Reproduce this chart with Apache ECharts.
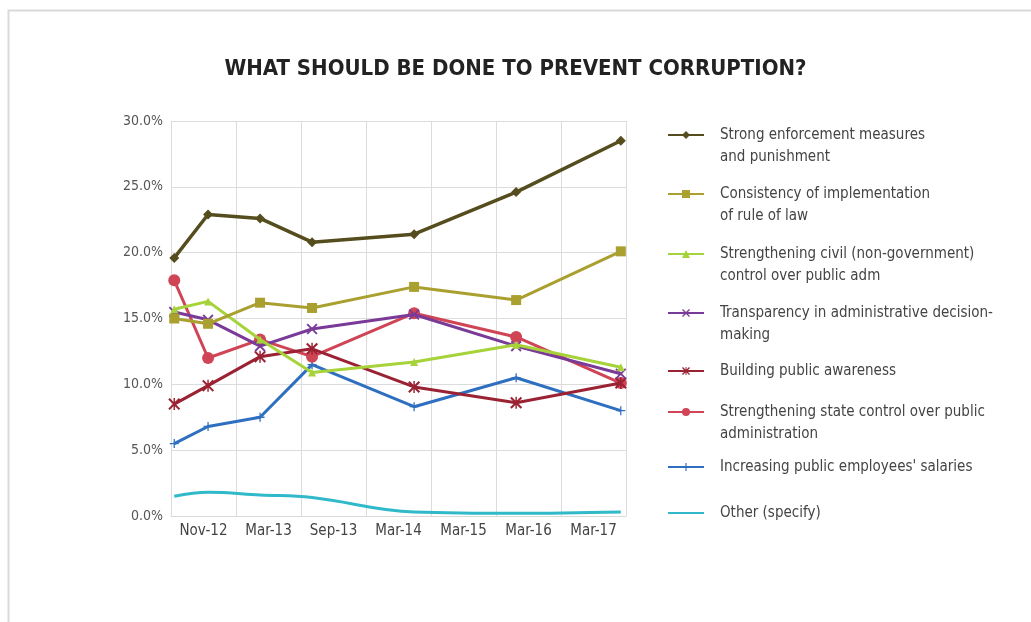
<!DOCTYPE html>
<html>
<head>
<meta charset="utf-8">
<script src="https://cdn.jsdelivr.net/npm/echarts@6/dist/echarts.min.js"></script>
<style>
html,body{margin:0;padding:0;background:#fff;}
#chart{width:1031px;height:622px;}
</style>
</head>
<body>
<div id="chart"></div>
<script>
// ---- data ----
var categories = ['Nov-12', 'Mar-13', 'Sep-13', 'Mar-14', 'Mar-15', 'Mar-16', 'Mar-17'];
var yTicks = [0, 5, 10, 15, 20, 25, 30];
// survey positions along the category scale (in category units)
var surveyPos = [0.05, 0.57, 1.37, 2.17, 3.74, 5.31, 6.92];

var strongEnforcement = [19.6, 22.9, 22.6, 20.8, 21.4, 24.6, 28.5];
var consistencyRuleOfLaw = [15.0, 14.6, 16.2, 15.8, 17.4, 16.4, 20.1];
var civilControl = [15.7, 16.3, 13.4, 10.9, 11.7, 13.0, 11.3];
var transparency = [15.5, 14.9, 12.9, 14.2, 15.3, 12.9, 10.8];
var publicAwareness = [8.5, 9.9, 12.1, 12.7, 9.8, 8.6, 10.1];
var stateControl = [17.9, 12.0, 13.4, 12.1, 15.4, 13.6, 10.1];
var salaries = [5.5, 6.8, 7.5, 11.5, 8.3, 10.5, 8.0];
var otherSpecify = [1.5, 1.8, 1.6, 1.4, 0.3, 0.2, 0.3];

var seriesNames = [
  'Strong enforcement measures\nand punishment',
  'Consistency of implementation\nof rule of law',
  'Strengthening civil (non-government)\ncontrol over public adm',
  'Transparency in administrative decision-\nmaking',
  'Building public awareness',
  'Strengthening state control over public\nadministration',
  "Increasing public employees' salaries",
  'Other (specify)'
];
var seriesValues = [strongEnforcement, consistencyRuleOfLaw, civilControl, transparency,
  publicAwareness, stateControl, salaries, otherSpecify];

// ---- styles ----
var FONT = '"Liberation Sans Narrow", "DejaVu Sans Condensed", "Roboto Condensed", sans-serif';
var colors = ['#554d1e', '#a9a02f', '#a6d23a', '#7a3a98', '#9a2233', '#d04556', '#2f6fc0', '#2fb9c9'];
var X_SYM = 'path://M0,1.2L1.2,0L5,3.8L8.8,0L10,1.2L6.2,5L10,8.8L8.8,10L5,6.2L1.2,10L0,8.8L3.8,5Z';
var AST_SYM = 'path://M0,1.2L1.2,0L5,3.8L8.8,0L10,1.2L6.2,5L10,8.8L8.8,10L5,6.2L1.2,10L0,8.8L3.8,5Z M4.4,0L5.6,0L5.6,10L4.4,10Z';
var PLUS_SYM = 'path://M4.3,0L5.7,0L5.7,4.3L10,4.3L10,5.7L5.7,5.7L5.7,10L4.3,10L4.3,5.7L0,5.7L0,4.3L4.3,4.3Z';
var symbols = ['diamond', 'rect', 'triangle', X_SYM, AST_SYM, 'circle', PLUS_SYM, 'circle'];
var symbolSizes = [10, 10, 8, 11, 12, 12, 9, 4];
var showSymbols = [true, true, true, true, true, true, true, false];
var lineWidths = [3.5, 3, 3, 3, 3, 3, 3, 3];
var legendIconY = [135, 194, 254, 313, 371, 412, 467, 513];

var series = seriesNames.map(function (name, i) {
  return {
    name: name,
    type: 'line',
    xAxisIndex: 1,
    data: seriesValues[i].map(function (v, j) { return [surveyPos[j], v]; }),
    symbol: symbols[i],
    symbolSize: symbolSizes[i],
    showSymbol: showSymbols[i],
    smooth: i === 7 ? 0.4 : false,
    lineStyle: { width: lineWidths[i], color: colors[i] },
    itemStyle: { color: colors[i] },
    z: 10 - i
  };
});

var legends = seriesNames.map(function (name, i) {
  var twoLine = name.indexOf('\n') >= 0;
  var leg = {
    data: [name],
    left: 667,
    top: legendIconY[i] - (twoLine ? 33 : 11),
    padding: 0,
    itemWidth: 36,
    itemHeight: 10,
    selectedMode: false,
    // a leading empty line keeps the first text line level with the icon
    formatter: twoLine ? function (n) { return '\n' + n; } : null,
    textStyle: {
      fontFamily: FONT, fontSize: 15, color: '#444', lineHeight: 22,
      padding: [0, 0, 0, 11]
    }
  };
  if (!showSymbols[i]) {
    leg.itemStyle = { color: 'rgba(0,0,0,0)', borderWidth: 0, opacity: 0 };
  }
  return leg;
});

var option = {
  backgroundColor: '#ffffff',
  animation: false,
  color: colors,
  title: {
    text: 'WHAT SHOULD BE DONE TO PREVENT CORRUPTION?',
    left: 'center',
    top: 53,
    textStyle: { fontFamily: FONT, fontSize: 22, fontWeight: 'bold', color: '#222' }
  },
  graphic: [{
    type: 'rect', left: 6, top: 8, z: -10, silent: true,
    shape: { width: 1040, height: 630 },
    style: { fill: 'none', stroke: '#dadada', lineWidth: 2 }
  }],
  legend: legends,
  grid: { left: 171, right: 405, top: 121, bottom: 106, containLabel: false },
  xAxis: [{
    type: 'category',
    data: categories,
    boundaryGap: true,
    axisTick: { show: false },
    axisLine: { show: true, lineStyle: { color: '#d9d9d9', width: 1 } },
    splitLine: { show: true, interval: 0, lineStyle: { color: '#dcdcdc', width: 1 } },
    axisLabel: { interval: 0, margin: 8, fontFamily: FONT, fontSize: 15, color: '#444' }
  }, {
    type: 'value', min: 0, max: categories.length, show: false
  }],
  yAxis: {
    type: 'value',
    min: yTicks[0],
    max: yTicks[yTicks.length - 1],
    interval: 5,
    axisLine: { show: false },
    axisTick: { show: false },
    splitLine: { show: true, lineStyle: { color: '#dcdcdc', width: 1 } },
    axisLabel: {
      margin: 8, fontFamily: FONT, fontSize: 14, color: '#555',
      formatter: function (v) { return v.toFixed(1) + '%'; }
    }
  },
  series: series
};

var chart = echarts.init(document.getElementById('chart'), null, { renderer: 'canvas' });
chart.setOption(option);
</script>
</body>
</html>
